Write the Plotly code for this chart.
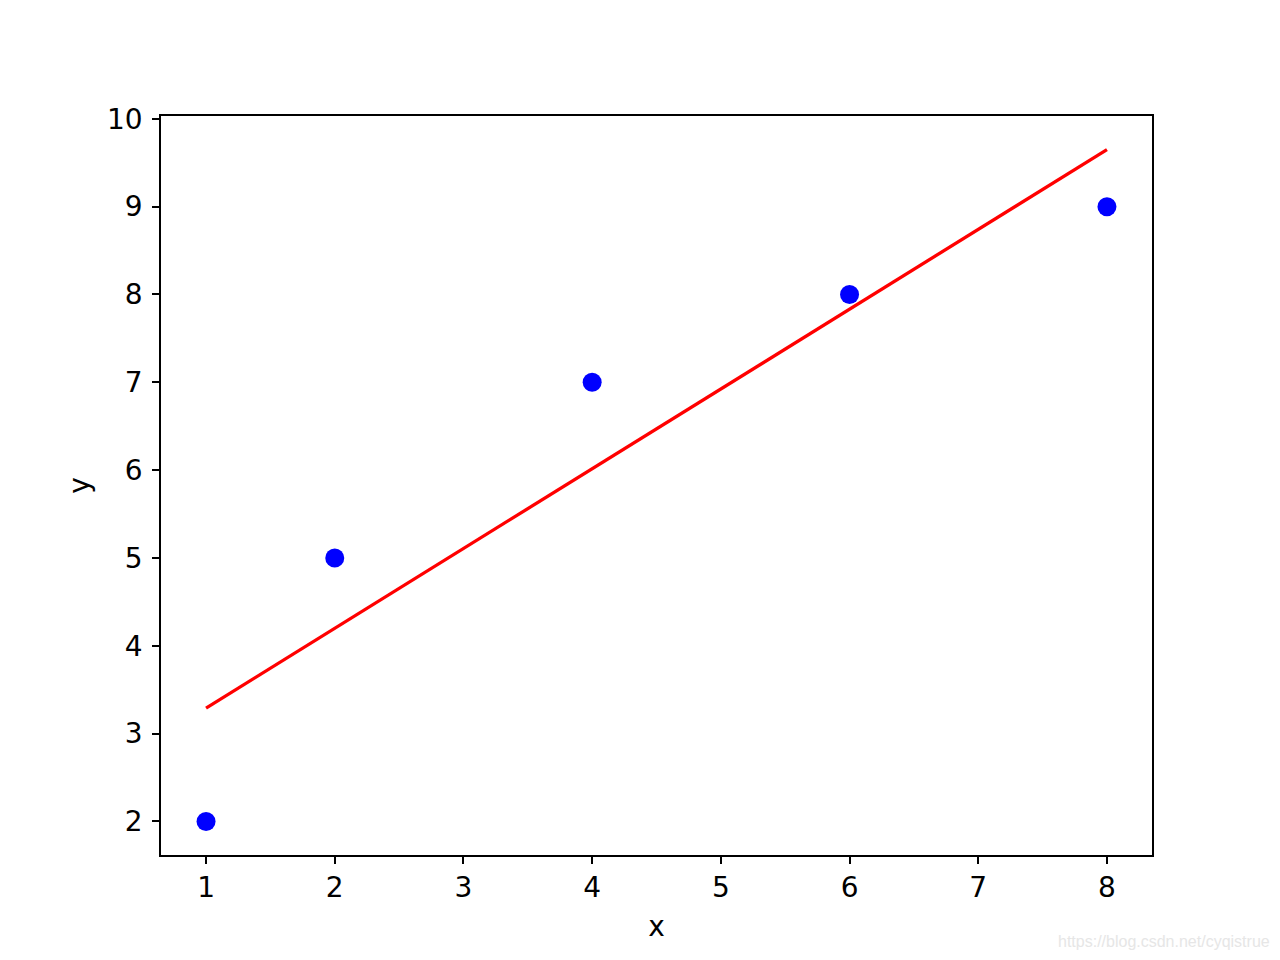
import plotly.graph_objects as go

x_points = [1, 2, 4, 6, 8]
y_points = [2, 5, 7, 8, 9]
fit_x = [1, 8]
fit_y = [3.29, 9.65]
x_ticks = [1, 2, 3, 4, 5, 6, 7, 8]
y_ticks = [2, 3, 4, 5, 6, 7, 8, 9, 10]

FONT = "DejaVu Sans"

fig = go.Figure()
fig.add_trace(go.Scatter(x=x_points, y=y_points, mode="markers",
                         marker=dict(color="#0000ff", size=19, line=dict(width=0)),
                         showlegend=False))
fig.add_trace(go.Scatter(x=fit_x, y=fit_y, mode="lines",
                         line=dict(color="#ff0000", width=3.3),
                         showlegend=False))

axis_common = dict(showline=True, linecolor="black", linewidth=1.6, mirror=True,
                   ticks="outside", ticklen=7, tickwidth=1.6, tickcolor="black",
                   showgrid=False, zeroline=False,
                   tickfont=dict(family=FONT, size=28, color="black"))

fig.update_xaxes(range=[0.65, 8.35], tickvals=x_ticks,
                 title=dict(text="x", font=dict(family=FONT, size=28, color="black"), standoff=13),
                 **axis_common)
fig.update_yaxes(range=[1.6175, 10.0325], tickvals=y_ticks, ticklabelstandoff=4,
                 title=dict(text="y", font=dict(family=FONT, size=28, color="black"), standoff=9),
                 **axis_common)

fig.add_annotation(text="https://blog.csdn.net/cyqistrue", xref="paper", yref="paper",
                   x=1.121, y=-0.117, xanchor="right", yanchor="middle", showarrow=False,
                   font=dict(family="Liberation Sans", size=16, color="#e6e6e6"))

fig.update_layout(width=1280, height=960,
                  margin=dict(l=153, r=136, t=108, b=113),
                  paper_bgcolor="white", plot_bgcolor="white")

fig.write_html("out.html")
